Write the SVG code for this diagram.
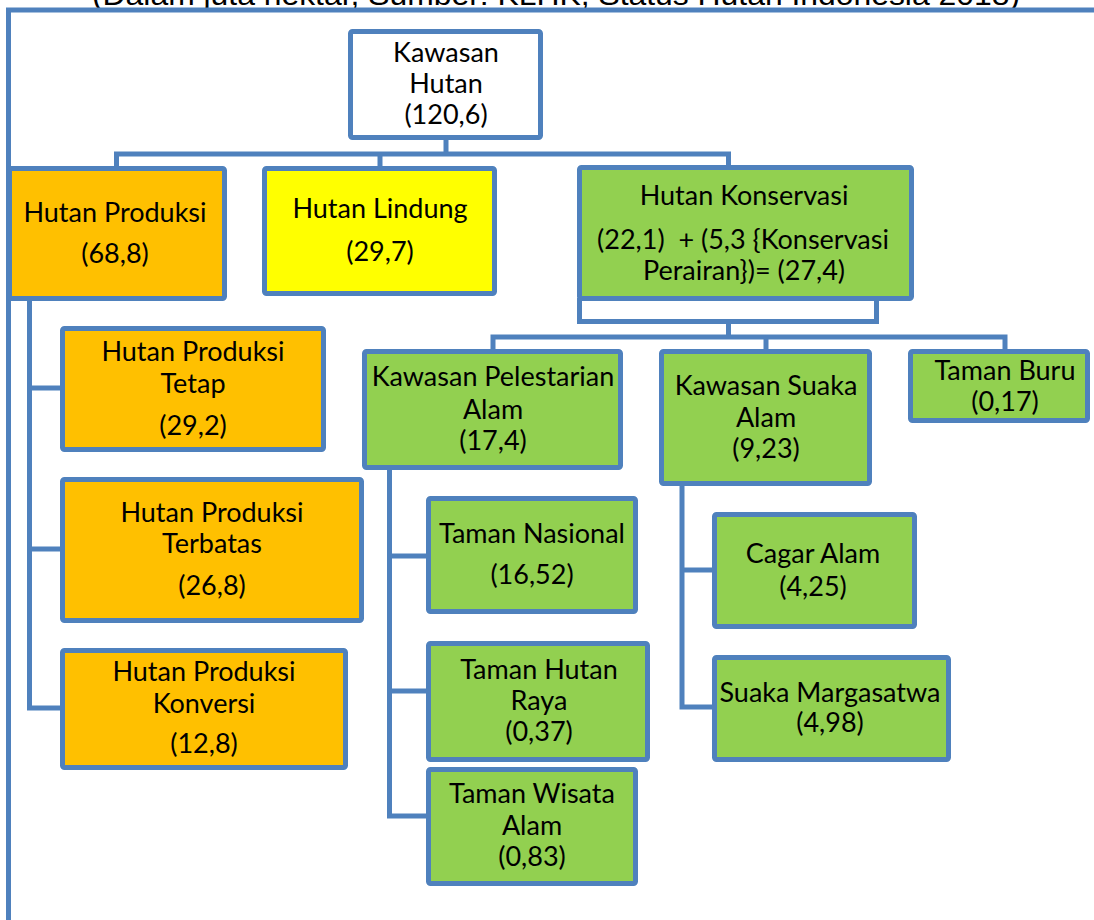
<svg xmlns="http://www.w3.org/2000/svg" width="1094" height="920" viewBox="0 0 1094 920">
<style>
.b{stroke:#4F81BD;stroke-width:5;rx:2}
.w{fill:#FFFFFF}.o{fill:#FFC000}.y{fill:#FFFF00}.g{fill:#92D050}
.c{fill:none;stroke:#4F81BD;stroke-width:5;stroke-linejoin:miter}
text{font-family:Lato,"Open Sans",sans-serif;font-size:27px;fill:#000;text-anchor:middle}
.t{font-family:"Liberation Sans",Arial,sans-serif;font-size:30px}
</style>
<rect x="0" y="0" width="1094" height="920" fill="#FFFFFF"/>
<text class="t" x="556" y="5" textLength="928" lengthAdjust="spacingAndGlyphs">(Dalam juta hektar, Sumber: KLHK, Status Hutan Indonesia 2018)</text>
<g id="connectors">
<path class="c" d="M8.5 920 V10 H1094"/>
<path class="c" d="M446 140 V154 M116.5 166 V154 H731 M380 154 V166 M728.5 154 V165"/>
<path class="c" d="M579.5 298 V321.5 H876.5 V298"/>
<path class="c" d="M728.5 321.5 V337 M493 349 V337 H1005 V349 M766 337 V349"/>
<path class="c" d="M29.5 301 V708 H60 M29.5 388 H60 M29.5 549 H60"/>
<path class="c" d="M389.5 470 V816 H426 M389.5 556 H426 M389.5 691 H426"/>
<path class="c" d="M682 486 V707 H712 M682 570 H712"/>
</g>
<g id="kawasan-hutan"><rect class="b w" x="350.5" y="31.5" width="190" height="106"/>
<text x="446" y="62">Kawasan</text><text x="446" y="93">Hutan</text><text x="446" y="124">(120,6)</text></g>
<g id="hutan-produksi"><rect class="b o" x="9.5" y="168.5" width="215" height="130"/>
<text x="115" y="222">Hutan Produksi</text><text x="115" y="263">(68,8)</text></g>
<g id="hutan-lindung"><rect class="b y" x="264.5" y="168.5" width="230" height="125"/>
<text x="380" y="218">Hutan Lindung</text><text x="380" y="261">(29,7)</text></g>
<g id="hutan-konservasi"><rect class="b g" x="579.5" y="167.5" width="332" height="131"/>
<text x="744" y="205">Hutan Konservasi</text><text x="743" y="249" xml:space="preserve">(22,1)  + (5,3 {Konservasi</text><text x="744" y="280">Perairan})= (27,4)</text></g>
<g id="hp-tetap"><rect class="b o" x="62.5" y="328.5" width="261" height="121"/>
<text x="193" y="361">Hutan Produksi</text><text x="193" y="393">Tetap</text><text x="193" y="435">(29,2)</text></g>
<g id="hp-terbatas"><rect class="b o" x="62.5" y="479.5" width="299" height="141"/>
<text x="212" y="522">Hutan Produksi</text><text x="212" y="553">Terbatas</text><text x="212" y="595">(26,8)</text></g>
<g id="hp-konversi"><rect class="b o" x="62.5" y="650.5" width="283" height="117"/>
<text x="204" y="681">Hutan Produksi</text><text x="204" y="713">Konversi</text><text x="204" y="753">(12,8)</text></g>
<g id="kawasan-pelestarian-alam"><rect class="b g" x="364.5" y="351.5" width="256" height="116"/>
<text x="493" y="386">Kawasan Pelestarian</text><text x="493" y="419">Alam</text><text x="493" y="450">(17,4)</text></g>
<g id="kawasan-suaka-alam"><rect class="b g" x="661.5" y="351.5" width="208" height="132"/>
<text x="766" y="395">Kawasan Suaka</text><text x="766" y="427">Alam</text><text x="766" y="458">(9,23)</text></g>
<g id="taman-buru"><rect class="b g" x="910.5" y="351.5" width="177" height="69"/>
<text x="1005" y="380">Taman Buru</text><text x="1005" y="411">(0,17)</text></g>
<g id="taman-nasional"><rect class="b g" x="428.5" y="498.5" width="207" height="113"/>
<text x="532" y="543">Taman Nasional</text><text x="532" y="584">(16,52)</text></g>
<g id="taman-hutan-raya"><rect class="b g" x="428.5" y="643.5" width="219" height="116"/>
<text x="539" y="679">Taman Hutan</text><text x="539" y="710">Raya</text><text x="539" y="741">(0,37)</text></g>
<g id="taman-wisata-alam"><rect class="b g" x="428.5" y="769.5" width="207" height="114"/>
<text x="532" y="803">Taman Wisata</text><text x="532" y="835">Alam</text><text x="532" y="866">(0,83)</text></g>
<g id="cagar-alam"><rect class="b g" x="714.5" y="514.5" width="200" height="112"/>
<text x="813" y="563">Cagar Alam</text><text x="813" y="596">(4,25)</text></g>
<g id="suaka-margasatwa"><rect class="b g" x="714.5" y="657.5" width="234" height="102"/>
<text x="830" y="702">Suaka Margasatwa</text><text x="830" y="732">(4,98)</text></g>
</svg>
